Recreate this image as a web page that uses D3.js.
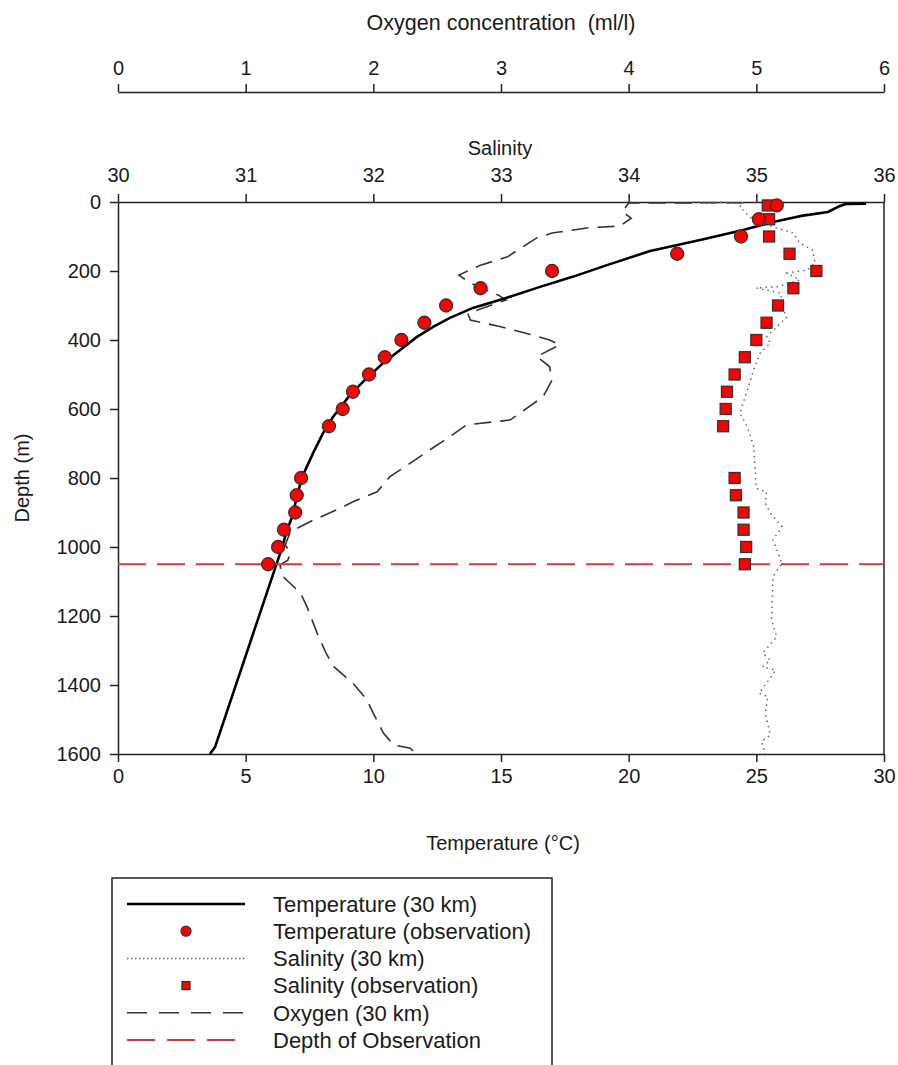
<!DOCTYPE html>
<html lang="en">
<head>
<meta charset="UTF-8" />
<title>Temperature, salinity and oxygen profile</title>
<script src="https://cdn.jsdelivr.net/npm/d3@7/dist/d3.min.js"></script>
<style>
  body { margin: 0; background: #fff; }
  svg text { font-family: "Liberation Sans", Arial, sans-serif; fill: #1a1a1a; }
</style>
</head>
<body>
<svg id="chart" width="898" height="1065"></svg>
<script>
// observations (depth in m)
const obsDepth = [10, 50, 100, 150, 200, 250, 300, 350, 400, 450, 500, 550, 600, 650, 800, 850, 900, 950, 1000, 1050];
const tempObs = [25.8, 25.1, 24.4, 21.9, 17.0, 14.2, 12.85, 12.0, 11.1, 10.45, 9.83, 9.2, 8.8, 8.26, 7.17, 7.0, 6.94, 6.5, 6.27, 5.88];
const salObs = [35.09, 35.10, 35.10, 35.26, 35.47, 35.29, 35.17, 35.08, 35.0, 34.91, 34.83, 34.77, 34.76, 34.74, 34.83, 34.84, 34.90, 34.90, 34.92, 34.91];

// model at 30 km
const tempModelDepth = [5, 6, 14, 29, 41, 58, 81, 110, 142, 183, 217, 246, 278, 307, 336, 362, 391, 429, 467, 510, 559, 623, 670, 728, 797, 852, 913, 951, 1003, 1040, 1580, 1600];
const tempModel = [29.3, 28.5, 28.2, 27.8, 26.7, 25.66, 24.48, 22.8, 20.84, 19.15, 17.8, 16.53, 15.2, 13.9, 13.0, 12.34, 11.71, 11.05, 10.38, 9.75, 9.09, 8.42, 8.03, 7.64, 7.21, 7.01, 6.82, 6.62, 6.42, 6.25, 3.8, 3.6];

const salModelDepth = [0, 2, 14, 44, 72, 90, 119, 139, 177, 197, 206, 226, 246, 249, 264, 313, 333, 362, 391, 409, 438, 496, 545, 612, 652, 709, 777, 830, 840, 873, 902, 941, 980, 1047, 1086, 1212, 1260, 1308, 1328, 1347, 1357, 1395, 1424, 1434, 1482, 1545, 1564, 1600];
const salModel = [34.5, 34.9, 34.87, 34.95, 35.13, 35.29, 35.34, 35.44, 35.46, 35.40, 35.24, 35.34, 35.16, 35.0, 35.19, 35.21, 35.24, 35.16, 35.08, 35.11, 35.03, 34.97, 34.93, 34.87, 34.93, 34.98, 34.99, 35.0, 35.08, 35.07, 35.11, 35.2, 35.13, 35.2, 35.13, 35.12, 35.16, 35.05, 35.11, 35.05, 35.15, 35.08, 35.02, 35.09, 35.07, 35.11, 35.04, 35.07];

const oxyDepth = [2, 3, 28, 47, 70, 74, 90, 104, 159, 183, 212, 235, 270, 284, 323, 342, 361, 386, 400, 414, 448, 477, 516, 564, 612, 632, 646, 680, 719, 757, 796, 840, 869, 888, 922, 956, 994, 1018, 1038, 1052, 1081, 1134, 1173, 1250, 1308, 1347, 1395, 1443, 1482, 1540, 1574, 1583, 1600];
const oxyModel = [4.9, 4.0, 3.95, 4.02, 3.93, 3.7, 3.4, 3.28, 3.05, 2.84, 2.67, 2.76, 2.98, 3.04, 2.74, 2.76, 2.99, 3.25, 3.38, 3.46, 3.28, 3.38, 3.40, 3.33, 3.15, 3.07, 2.73, 2.6, 2.44, 2.29, 2.13, 2.03, 1.84, 1.74, 1.53, 1.35, 1.31, 1.35, 1.33, 1.27, 1.28, 1.43, 1.48, 1.56, 1.63, 1.69, 1.84, 1.95, 2.0, 2.08, 2.16, 2.29, 2.33];

const observationDepth = 1050;

const tempTicks = [0, 5, 10, 15, 20, 25, 30];
const salTicks = [30, 31, 32, 33, 34, 35, 36];
const oxyTicks = [0, 1, 2, 3, 4, 5, 6];
const depthTicks = [0, 200, 400, 600, 800, 1000, 1200, 1400, 1600];

const legendLabels = ['Temperature (30 km)', 'Temperature (observation)', 'Salinity (30 km)',
  'Salinity (observation)', 'Oxygen (30 km)', 'Depth of Observation'];

const svg = d3.select('#chart');
const pLeft = 118, pRight = 884, pTop = 202, pBottom = 754;
const axisColor = '#222';

const xT = d3.scaleLinear().domain([0, 30]).range([pLeft, pRight]);
const xS = d3.scaleLinear().domain([30, 36]).range([pLeft, pRight]);
const xO = d3.scaleLinear().domain([0, 6]).range([pLeft, pRight]);
const y = d3.scaleLinear().domain([0, 1600]).range([pTop, pBottom]);

function styleAxis(g) {
  g.selectAll('path, line').attr('stroke', axisColor).attr('stroke-width', 1.5);
  g.selectAll('text').attr('font-size', 20).attr('fill', '#1a1a1a')
    .attr('font-family', '"Liberation Sans", Arial, sans-serif');
}

// axes
svg.append('g').attr('transform', `translate(0,92)`)
  .call(d3.axisTop(xO).tickValues(oxyTicks).tickSize(8).tickSizeOuter(0).tickPadding(9).tickFormat(d3.format('d')))
  .call(styleAxis);
svg.append('g').attr('transform', `translate(0,${pTop})`)
  .call(d3.axisTop(xS).tickValues(salTicks).tickSize(8).tickSizeOuter(0).tickPadding(12).tickFormat(d3.format('d')))
  .call(styleAxis);
svg.append('g').attr('transform', `translate(0,${pBottom})`)
  .call(d3.axisBottom(xT).tickValues(tempTicks).tickSize(8).tickSizeOuter(0).tickPadding(7).tickFormat(d3.format('d')))
  .call(styleAxis);
svg.append('g').attr('transform', `translate(${pLeft},0)`)
  .call(d3.axisLeft(y).tickValues(depthTicks).tickSize(8).tickSizeOuter(0).tickPadding(9).tickFormat(d3.format('d')))
  .call(styleAxis);
svg.append('line')
  .attr('x1', pRight).attr('x2', pRight).attr('y1', pTop).attr('y2', pBottom)
  .attr('stroke', axisColor).attr('stroke-width', 1.5);

// axis titles
svg.append('text').attr('x', 501).attr('y', 30).attr('text-anchor', 'middle').attr('font-size', 21.5)
  .text('Oxygen concentration\u00a0\u00a0(ml/l)');
svg.append('text').attr('x', 500).attr('y', 155).attr('text-anchor', 'middle').attr('font-size', 20)
  .text('Salinity');
svg.append('text').attr('x', 503).attr('y', 850).attr('text-anchor', 'middle').attr('font-size', 20)
  .text('Temperature (°C)');
svg.append('text').attr('transform', 'translate(29,478) rotate(-90)').attr('text-anchor', 'middle').attr('font-size', 20)
  .text('Depth (m)');

// model lines
const plot = svg.append('g');

const oxyLine = d3.line().x(i => xO(oxyModel[i])).y(i => y(oxyDepth[i]));
plot.append('path').attr('d', oxyLine(d3.range(oxyModel.length)))
  .attr('fill', 'none').attr('stroke', '#333').attr('stroke-width', 1.6).attr('stroke-dasharray', '17,9');

const salLine = d3.line().x(i => xS(salModel[i])).y(i => y(salModelDepth[i]));
plot.append('path').attr('d', salLine(d3.range(salModel.length)))
  .attr('fill', 'none').attr('stroke', '#666').attr('stroke-width', 1.5).attr('stroke-dasharray', '1.5,4');

const tempLine = d3.line().x(i => xT(tempModel[i])).y(i => y(tempModelDepth[i]));
plot.append('path').attr('d', tempLine(d3.range(tempModel.length)))
  .attr('fill', 'none').attr('stroke', '#000').attr('stroke-width', 2.6).attr('stroke-linejoin', 'round');

// depth of observation
plot.append('line')
  .attr('x1', pLeft).attr('x2', pRight).attr('y1', y(observationDepth)).attr('y2', y(observationDepth))
  .attr('stroke', '#d43a3a').attr('stroke-width', 2).attr('stroke-dasharray', '28,11');

// observations
plot.selectAll('.sq').data(d3.range(salObs.length)).join('rect')
  .attr('class', 'sq')
  .attr('x', i => xS(salObs[i]) - 5.5).attr('y', i => y(obsDepth[i]) - 5.5)
  .attr('width', 11).attr('height', 11)
  .attr('fill', '#f00').attr('stroke', '#333').attr('stroke-width', 1.3);

plot.selectAll('.dot').data(d3.range(tempObs.length)).join('circle')
  .attr('class', 'dot')
  .attr('cx', i => xT(tempObs[i])).attr('cy', i => y(obsDepth[i])).attr('r', 6.5)
  .attr('fill', '#f00').attr('stroke', '#333').attr('stroke-width', 1.3);

// legend
const legend = svg.append('g');
legend.append('rect').attr('x', 112).attr('y', 878).attr('width', 440).attr('height', 200)
  .attr('fill', '#fff').attr('stroke', axisColor).attr('stroke-width', 1.5);

const rowY = d3.scalePoint().domain(legendLabels).range([904, 1040]);
const sx1 = 127, sx2 = 245, sxm = 186;

legend.append('line').attr('x1', sx1).attr('x2', sx2).attr('y1', rowY(legendLabels[0])).attr('y2', rowY(legendLabels[0]))
  .attr('stroke', '#000').attr('stroke-width', 2.6);
legend.append('circle').attr('cx', sxm).attr('cy', rowY(legendLabels[1])).attr('r', 5)
  .attr('fill', '#f00').attr('stroke', '#333').attr('stroke-width', 1.3);
legend.append('line').attr('x1', sx1).attr('x2', sx2).attr('y1', rowY(legendLabels[2])).attr('y2', rowY(legendLabels[2]))
  .attr('stroke', '#666').attr('stroke-width', 1.5).attr('stroke-dasharray', '1.5,2.5');
legend.append('rect').attr('x', sxm - 4).attr('y', rowY(legendLabels[3]) - 4).attr('width', 8).attr('height', 8)
  .attr('fill', '#f00').attr('stroke', '#333').attr('stroke-width', 1.3);
legend.append('line').attr('x1', sx1).attr('x2', sx2).attr('y1', rowY(legendLabels[4])).attr('y2', rowY(legendLabels[4]))
  .attr('stroke', '#333').attr('stroke-width', 1.6).attr('stroke-dasharray', '20,12');
legend.append('line').attr('x1', sx1).attr('x2', sx2).attr('y1', rowY(legendLabels[5])).attr('y2', rowY(legendLabels[5]))
  .attr('stroke', '#d43a3a').attr('stroke-width', 2).attr('stroke-dasharray', '28,12');

legend.selectAll('.lt').data(legendLabels).join('text')
  .attr('class', 'lt')
  .attr('x', 273).attr('y', d => rowY(d)).attr('dy', '0.35em').attr('font-size', 22)
  .text(d => d);
</script>
</body>
</html>
